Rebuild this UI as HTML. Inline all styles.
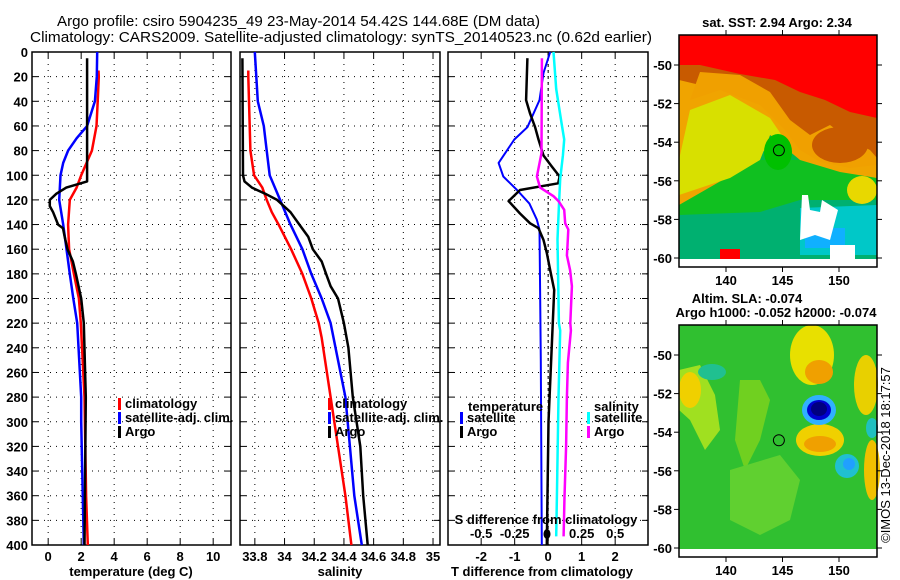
<!DOCTYPE html>
<html><head><meta charset="utf-8">
<style>
html,body{margin:0;padding:0;background:#fff;}
svg{display:block;font-family:"Liberation Sans",sans-serif;}
.t{font-size:13px;font-weight:bold;fill:#000;}
</style></head>
<body>
<svg id="fig" width="900" height="580" viewBox="0 0 900 580" xmlns="http://www.w3.org/2000/svg">
<text x="57" y="26" font-size="15" textLength="483" lengthAdjust="spacingAndGlyphs">Argo profile: csiro 5904235_49 23-May-2014 54.42S 144.68E (DM data)</text>
<text x="30" y="42" font-size="15" textLength="622" lengthAdjust="spacingAndGlyphs">Climatology: CARS2009. Satellite-adjusted climatology: synTS_20140523.nc (0.62d earlier)</text>
<g id="maps"></g>
<g id="panels"></g>
<text class="t" transform="translate(890,455) rotate(-90)" text-anchor="middle" font-weight="normal" style="font-weight:normal;font-size:13px">©IMOS 13-Dec-2018 18:17:57</text>
</svg>
<script>
// ---------- data ----------
const depthTicks = [0,20,40,60,80,100,120,140,160,180,200,220,240,260,280,300,320,340,360,380,400];
const tempTicks = [0,2,4,6,8,10];
const salTicks = [33.8,34,34.2,34.4,34.6,34.8,35];
const salTickLabels = ["33.8","34","34.2","34.4","34.6","34.8","35"];
const tdiffTicks = [-2,-1,0,1,2];
const sdiffTicks = [-0.5,-0.25,0,0.25,0.5];
const sdiffTickLabels = ["-0.5","-0.25","","0.25","0.5"];

const climTDepth = [15,20,40,60,80,100,110,120,140,160,180,200,220,280,360,400];
const climTVal   = [3.05,3.07,3.0,2.93,2.65,2.0,1.72,1.31,1.21,1.27,1.56,1.86,1.98,2.2,2.3,2.4];
const satTDepth = [0,20,40,60,70,80,90,100,120,140,160,180,200,220,280,300,400];
const satTVal   = [2.97,2.95,2.83,2.36,1.72,1.21,0.91,0.75,0.67,0.91,1.11,1.31,1.52,1.76,2.0,2.0,2.16];
const argoTDepth = [5,100,105,110,115,120,125,130,140,143,150,160,170,180,200,220,280,400];
const argoTVal   = [2.36,2.36,2.36,1.1,0.5,0.1,0.1,0.3,0.6,0.9,1.0,1.17,1.5,1.68,2.0,2.16,2.28,2.2];

const climSDepth = [15,20,80,100,110,120,130,140,160,180,200,220,232,280,320,360,400];
const climSVal   = [33.756,33.756,33.77,33.795,33.85,33.88,33.914,33.96,34.044,34.12,34.18,34.23,34.25,34.31,34.36,34.41,34.45];
const satSDepth = [0,40,60,80,100,120,140,160,180,200,220,280,320,360,400];
const satSVal   = [33.80,33.82,33.86,33.88,33.90,33.97,34.04,34.12,34.18,34.25,34.31,34.41,34.44,34.47,34.52];
const argoSDepth = [5,100,105,110,115,120,130,140,150,160,170,180,190,200,220,240,280,320,360,400];
const argoSVal   = [33.716,33.72,33.73,33.78,33.87,33.95,34.04,34.10,34.16,34.19,34.25,34.28,34.31,34.36,34.40,34.43,34.46,34.51,34.53,34.56];

const satTdDepth = [0,17,39,61,71,90,101,112,123,136,144,250,400];
const satTdVal   = [0.06,-0.14,-0.26,-0.62,-1.01,-1.48,-1.34,-0.93,-0.56,-0.34,-0.26,-0.22,-0.19];
const argoTdDepth = [5,39,50,61,71,84,93,101,106.5,112,121,131,139,143,152.5,163,177,193,300,400];
const argoTdVal   = [-0.62,-0.66,-0.54,-0.39,-0.29,-0.14,0.11,0.34,0.30,-0.84,-1.18,-0.84,-0.54,-0.29,-0.14,-0.04,0.06,0.18,0.01,-0.04];
const satSdDepth = [0,30,58,71,84,103,125,152,220,226,280,361,393];
const satSdVal   = [0.04,0.06,0.10,0.12,0.11,0.09,0.08,0.07,0.08,0.09,0.077,0.065,0.06];
const argoSdDepth = [5,82,101,110,117,121,128,139,144,157,165,177,190,220,226,252,280,320,361,393];
const argoSdVal   = [-0.047,-0.05,-0.084,-0.06,0.04,0.077,0.12,0.127,0.15,0.144,0.14,0.164,0.177,0.165,0.17,0.147,0.14,0.134,0.122,0.115];

const latTicks = [-50,-52,-54,-56,-58,-60];
const lonTicks = [140,145,150];
const argoLat = -54.42, argoLon = 144.68;

// ---------- helpers ----------
const NS="http://www.w3.org/2000/svg";
function mk(tag, attrs, parent){const e=document.createElementNS(NS,tag);for(const k in attrs)e.setAttribute(k,attrs[k]);parent.appendChild(e);return e;}
const panelsG=document.getElementById('panels');
const mapsG=document.getElementById('maps');
const TOP=52, BOT=545;
function yD(d){return TOP+(BOT-TOP)*d/400;}

function panel(name,x0,x1,xmin,xmax,ticks,labels){
  const g=mk('g',{},panelsG);
  
  
  const xs=v=>x0+(x1-x0)*(v-xmin)/(xmax-xmin);
  depthTicks.forEach(d=>{
    const y=yD(d);
    if(d>0&&d<400){const l=mk('line',{x1:x0,x2:x1,y1:y,y2:y,stroke:'#000','stroke-width':1,'stroke-dasharray':'1,5'},g);
    
    }
    mk('line',{x1:x0,x2:x0+6,y1:y,y2:y,stroke:'#000'},g);
    mk('line',{x1:x1-6,x2:x1,y1:y,y2:y,stroke:'#000'},g);
  });
  ticks.forEach((v,i)=>{
    const x=xs(v);
    const l=mk('line',{x1:x,x2:x,y1:TOP,y2:BOT,stroke:'#000','stroke-dasharray':'1,5'},g);
    
    
    mk('line',{x1:x,x2:x,y1:TOP,y2:TOP+6,stroke:'#000'},g);
    mk('line',{x1:x,x2:x,y1:BOT-6,y2:BOT,stroke:'#000'},g);
    const t=mk('text',{x:x,y:561,'text-anchor':'middle',class:'t'},g);
    t.textContent=labels?labels[i]:String(v);
    
    
  });
  const r=mk('rect',{x:x0,y:TOP,width:x1-x0,height:BOT-TOP,fill:'none',stroke:'#000','stroke-width':1.5},g);
  
  
  return {g,xs};
}
function series(p,name,depths,vals,color,w,scale){
  const pts=depths.map((d,i)=>p.xs(vals[i]*(scale||1)).toFixed(1)+','+yD(d).toFixed(1)).join(' ');
  const l=mk('polyline',{points:pts,fill:'none',stroke:color,'stroke-width':w,'stroke-linejoin':'round'},p.g);
  
  
}
function label(g,name,x,y,txt,anchor,extra){
  const t=mk('text',Object.assign({x:x,y:y,'text-anchor':anchor||'start',class:'t'},extra||{}),g);
  t.textContent=txt;
  
  
  return t;
}
function legend(g,name,x,y,color,txt){
  const m=mk('rect',{x:x,y:y-9,width:3,height:12,fill:color},g);
  
  
  label(g,name+'-label',x+7,y+1,txt);
}

// depth labels
depthTicks.forEach(d=>{
  const t=label(panelsG,'depth-tick-label',28,yD(d)+5,String(d),'end');
});

// panel 1: temperature
const p1=panel('temperature-panel',32,231,-0.98,11.08,tempTicks);
series(p1,'temp-climatology-line',climTDepth,climTVal,'#ff0000',2.5);
series(p1,'temp-satellite-line',satTDepth,satTVal,'#0000ff',2.5);
series(p1,'temp-argo-line',argoTDepth,argoTVal,'#000000',2.5);
label(p1.g,'temperature-axis-title',131,576,'temperature (deg C)','middle');
legend(p1.g,'legend-climatology',118,407,'#ff0000','climatology');
legend(p1.g,'legend-satellite-adj',118,421,'#0000ff','satellite-adj. clim.');
legend(p1.g,'legend-argo',118,435,'#000000','Argo');

// panel 2: salinity
const p2=panel('salinity-panel',240,440,33.7,35.047,salTicks,salTickLabels);
series(p2,'sal-climatology-line',climSDepth,climSVal,'#ff0000',2.5);
series(p2,'sal-satellite-line',satSDepth,satSVal,'#0000ff',2.5);
series(p2,'sal-argo-line',argoSDepth,argoSVal,'#000000',2.5);
label(p2.g,'salinity-axis-title',340,576,'salinity','middle');
legend(p2.g,'legend-climatology-s',328,407,'#ff0000','climatology');
legend(p2.g,'legend-satellite-adj-s',328,421,'#0000ff','satellite-adj. clim.');
legend(p2.g,'legend-argo-s',328,435,'#000000','Argo');

// panel 3: differences
const p3=panel('difference-panel',448,648,-2.99,2.98,tdiffTicks);
const z=mk('line',{x1:p3.xs(0),x2:p3.xs(0),y1:TOP,y2:BOT,stroke:'#000','stroke-dasharray':'3,3'},p3.g);


series(p3,'tdiff-satellite-line',satTdDepth,satTdVal,'#0000ff',2);
series(p3,'tdiff-argo-line',argoTdDepth,argoTdVal,'#000000',2.5);
series(p3,'sdiff-satellite-line',satSdDepth,satSdVal,'#00ffff',2.5,4);
series(p3,'sdiff-argo-line',argoSdDepth,argoSdVal,'#ff00ff',2.5,4);
label(p3.g,'tdiff-axis-title',542,576,'T difference from climatology','middle');
label(p3.g,'sdiff-axis-title',546,524,'S difference from climatology','middle');
sdiffTicks.forEach((v,i)=>{label(p3.g,'sdiff-tick-label',p3.xs(v*4),538,sdiffTickLabels[i],'middle');});
const dot=mk('ellipse',{cx:547,cy:534,rx:3.5,ry:5,fill:'#000'},p3.g);


label(p3.g,'legend-temperature-heading',468,411,'temperature');
legend(p3.g,'legend-t-satellite',460,421,'#0000ff','satellite');
legend(p3.g,'legend-t-argo',460,435,'#000000','Argo');
label(p3.g,'legend-salinity-heading',594,411,'salinity');
legend(p3.g,'legend-s-satellite',587,421,'#00ffff','satellite');
legend(p3.g,'legend-s-argo',587,435,'#ff00ff','Argo');

// ---------- maps ----------
function lonX(l){return 726+(l-140)*11.3;}
function mapFrame(name,y0,y1,latY,title){
  const g=mk('g',{},mapsG);
  
  
  return g;
}
function poly(g,name,pts,fill){
  const p=mk('polygon',{points:pts,fill:fill},g);
  
  
}
function ell(g,name,cx,cy,rx,ry,fill,extra){
  const e=mk('ellipse',Object.assign({cx:cx,cy:cy,rx:rx,ry:ry,fill:fill},extra||{}),g);
  
  
}
function axes(g,y0,y1,lat50,title){
  const latY=l=>lat50+(-50-l)*19.3;
  latTicks.forEach(l=>{
    const y=latY(l);
    mk('line',{x1:679,x2:674,y1:y,y2:y,stroke:'#000'},g);
    mk('line',{x1:877,x2:882,y1:y,y2:y,stroke:'#000'},g);
    label(g,'lat-tick-label',672,y+5,String(l),'end');
  });
  lonTicks.forEach(l=>{
    const x=lonX(l);
    mk('line',{x1:x,x2:x,y1:y0,y2:y0-5,stroke:'#000'},g);
    mk('line',{x1:x,x2:x,y1:y1,y2:y1+5,stroke:'#000'},g);
    label(g,'lon-tick-label',x,y1+18,String(l),'middle');
  });
  const r=mk('rect',{x:679,y:y0,width:198,height:y1-y0,fill:'none',stroke:'#000','stroke-width':1.5},g);
  
  
  const c=mk('circle',{cx:lonX(argoLon),cy:latY(argoLat),r:5.5,fill:'none',stroke:'#000','stroke-width':1},g);
  
  
}

// SST map
const sst=mapFrame('sst-map');
mk('rect',{x:679,y:35,width:198,height:224,fill:'#00b84a'},sst);
poly(sst,'sst-green-zone','679,175 720,170 760,160 800,160 877,168 877,259 679,259','#10c020');
poly(sst,'sst-teal-zone','679,215 760,212 800,200 877,200 877,259 679,259','#00b070');
poly(sst,'sst-orange-zone','679,55 877,55 877,178 840,172 800,160 770,135 765,150 740,170 679,205','#f0a400');
poly(sst,'sst-yellow-zone','690,110 730,95 770,118 785,140 770,135 760,160 730,178 679,195 679,160','#d8e000');
poly(sst,'sst-brown-band','679,55 877,55 877,165 830,160 805,150 790,125 770,100 745,88 720,80 700,85 679,80','#c85a00');
poly(sst,'sst-orange-inner','700,72 740,75 770,92 790,120 810,135 830,125 850,140 870,150 877,158 877,165 850,168 820,162 800,150 785,130 760,105 720,90 690,100','#f0a000');
poly(sst,'sst-red-zone','679,35 877,35 877,118 850,112 825,100 800,92 775,80 740,74 700,65 679,65','#ff0000');
ell(sst,'sst-green-blob',778,152,14,18,'#00c000');
ell(sst,'sst-brown-blob',840,145,28,18,'#c85a00');
ell(sst,'sst-yellow-blob',862,190,15,14,'#e8d800');
poly(sst,'sst-cyan-patch','800,208 877,205 877,255 800,255','#00c8c8');
poly(sst,'sst-blue-patch','805,228 845,228 845,248 805,248','#10b0ff');
poly(sst,'sst-white-patch-1','802,195 808,195 810,210 820,212 822,200 838,210 830,240 815,235 800,240','#ffffff');
poly(sst,'sst-white-patch-2','830,245 855,245 855,259 830,259','#ffffff');
poly(sst,'sst-red-speck','720,249 740,249 740,259 720,259','#ff0000');
mk('rect',{x:679,y:259,width:198,height:8,fill:'#fff'},sst);
axes(sst,35,267,65);
label(sst,'sst-map-title',777,27,'sat. SST: 2.94 Argo: 2.34','middle');

// SLA map
const sla=mapFrame('sla-map');
mk('rect',{x:679,y:325,width:198,height:224,fill:'#30c030'},sla);
poly(sla,'sla-yg-1','679,370 700,365 715,395 720,430 705,450 690,420 679,410','#a0e020');
poly(sla,'sla-yg-2','740,380 760,380 770,400 760,440 745,470 735,440','#70d020');
poly(sla,'sla-yg-3','730,470 780,455 800,480 790,520 760,535 730,520','#60d030');
ell(sla,'sla-yellow-left',690,390,11,18,'#f0d000');
ell(sla,'sla-teal-left',712,372,14,8,'#20c090');
ell(sla,'sla-yellow-top-1',812,355,22,30,'#e8e000');
ell(sla,'sla-orange-top',819,372,14,12,'#f0a000');
ell(sla,'sla-yellow-right',866,385,12,30,'#e8d000');
ell(sla,'sla-yellow-right-2',872,470,8,30,'#f0c000');
ell(sla,'sla-yellow-mid',820,440,24,16,'#f0d000');
ell(sla,'sla-orange-mid',820,444,16,8,'#f0a000');
ell(sla,'sla-eddy-ring',819,410,17,15,'#30b0ff');
ell(sla,'sla-eddy-blue',819,410,12,10,'#0000d0');
ell(sla,'sla-eddy-core',819,409,8,7,'#000080');
ell(sla,'sla-cyan-blob',847,466,12,12,'#20c0d0');
ell(sla,'sla-cyan-core',849,464,6,6,'#20a0ff');
ell(sla,'sla-cyan-right',872,428,6,10,'#20c0c0');
mk('rect',{x:679,y:549,width:198,height:8,fill:'#fff'},sla);
axes(sla,325,557,355);
label(sla,'sla-map-title',747,303,'Altim. SLA: -0.074','middle');
label(sla,'sla-map-subtitle',776,317,'Argo h1000: -0.052 h2000: -0.074','middle');
</script>
</body></html>
